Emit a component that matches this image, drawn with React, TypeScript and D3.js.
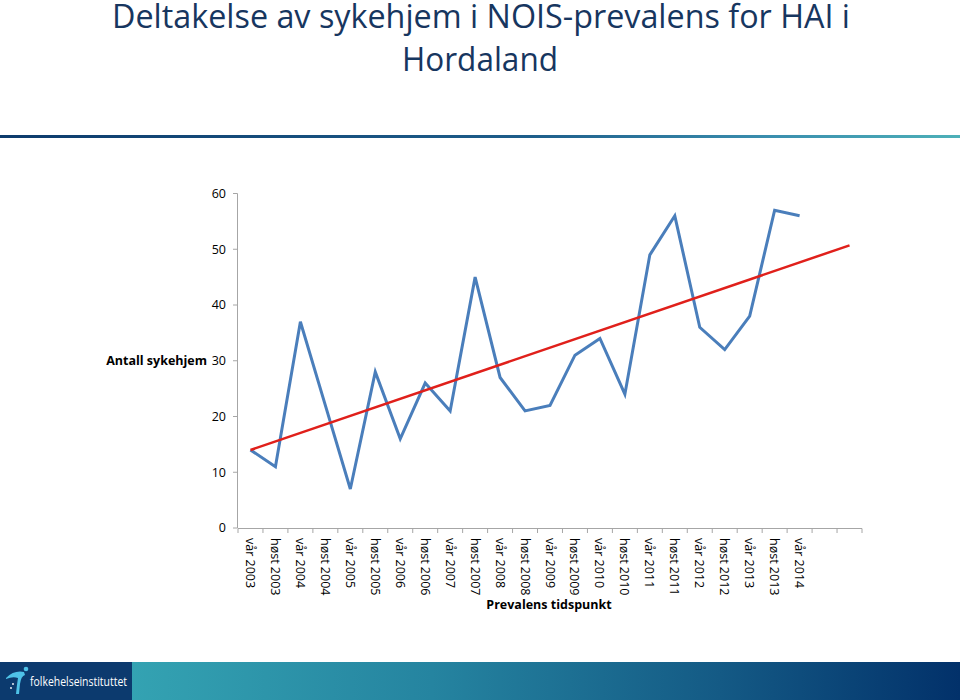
import React from "react";
import * as d3 from "d3";

const categories: string[] = [
  "vår 2003", "høst 2003", "vår 2004", "høst 2004", "vår 2005", "høst 2005",
  "vår 2006", "høst 2006", "vår 2007", "høst 2007", "vår 2008", "høst 2008",
  "vår 2009", "høst 2009", "vår 2010", "høst 2010", "vår 2011", "høst 2011",
  "vår 2012", "høst 2012", "vår 2013", "høst 2013", "vår 2014", "", "",
];
const antallSykehjem: number[] = [
  14, 11, 37, 22, 7, 28, 16, 26, 21, 45, 27, 21, 22, 31, 34, 24, 49, 56, 36, 32, 38, 57, 56,
];
// linear trendline end points (first and last category)
const trendValues: number[] = [14, 50.7];
const yTicks: number[] = [0, 10, 20, 30, 40, 50, 60];

const W = 960;
const H = 700;

export default function App() {
  const x = d3.scaleBand<number>().domain(d3.range(categories.length)).range([238, 862]).padding(0);
  const y = d3.scaleLinear().domain([0, 60]).range([528, 193.5]);
  const cx = (i: number) => (x(i) as number) + x.bandwidth() / 2;

  const line = d3
    .line<number>()
    .x((_, i) => cx(i))
    .y((d) => y(d));

  const trendPts: [number, number][] = [
    [cx(0), y(trendValues[0])],
    [cx(categories.length - 1), y(trendValues[1])],
  ];

  const boundaries = d3.range(categories.length + 1).map((i) => 238 + i * x.bandwidth());
  const font = "'Open Sans', sans-serif";

  return (
    <svg width={W} height={H} style={{ position: "absolute", left: 0, top: 0, background: "#fff" }}>
      <defs>
        <linearGradient id="titleLine" x1="0" x2="1" y1="0" y2="0">
          <stop offset="0" stopColor="#0D3B6C" />
          <stop offset="0.55" stopColor="#1D5D8A" />
          <stop offset="0.8" stopColor="#3A8EAE" />
          <stop offset="1" stopColor="#4DB0B8" />
        </linearGradient>
        <linearGradient id="footGrad" x1="0" x2="1" y1="0" y2="0">
          <stop offset="0" stopColor="#3AB0BA" />
          <stop offset="0.45" stopColor="#2584A0" />
          <stop offset="0.75" stopColor="#145A85" />
          <stop offset="1" stopColor="#02316A" />
        </linearGradient>
      </defs>

      {/* Title */}
      <text x={481} y={27.5} textAnchor="middle" fontFamily={font} fontSize={32} fill="#17365F"
        textLength={738} lengthAdjust="spacingAndGlyphs">
        Deltakelse av sykehjem i NOIS-prevalens for HAI i
      </text>
      <text x={480} y={70.5} textAnchor="middle" fontFamily={font} fontSize={32} fill="#17365F"
        textLength={156} lengthAdjust="spacingAndGlyphs">
        Hordaland
      </text>
      <rect x={0} y={135} width={W} height={3} fill="url(#titleLine)" />

      {/* Y axis */}
      <line x1={237.5} x2={237.5} y1={y(60)} y2={y(0)} stroke="#A6A6A6" strokeWidth={1} />
      {yTicks.map((t) => (
        <g key={t}>
          <line x1={233} x2={237.5} y1={y(t)} y2={y(t)} stroke="#A6A6A6" />
          <text x={226} y={y(t)} dy="0.35em" textAnchor="end" fontFamily={font} fontSize={12.5} fill="#000">
            {t}
          </text>
        </g>
      ))}
      <text x={207} y={y(30)} dy="0.35em" textAnchor="end" fontFamily={font} fontSize={12.5} fontWeight="bold" fill="#000">
        Antall sykehjem
      </text>

      {/* X axis */}
      <line x1={238} x2={862} y1={528.5} y2={528.5} stroke="#A6A6A6" />
      {boundaries.map((b, i) => (
        <line key={i} x1={b} x2={b} y1={528.5} y2={533} stroke="#A6A6A6" />
      ))}
      {categories.map((c, i) =>
        c ? (
          <text key={i} transform={`translate(${cx(i) - 4.5},538) rotate(90)`} fontFamily={font}
            fontSize={12.5} fill="#000" textAnchor="start">
            {c}
          </text>
        ) : null
      )}
      <text x={549} y={609} textAnchor="middle" fontFamily={font} fontSize={12.5} fontWeight="bold" fill="#000">
        Prevalens tidspunkt
      </text>

      {/* Data line */}
      <path d={line(antallSykehjem) || ""} fill="none" stroke="#4A7EBB" strokeWidth={3} strokeLinejoin="miter" />
      {/* Trend line */}
      <line x1={trendPts[0][0]} y1={trendPts[0][1]} x2={trendPts[1][0]} y2={trendPts[1][1]}
        stroke="#E0201B" strokeWidth={2.5} />

      {/* Footer */}
      <rect x={0} y={662} width={W} height={38} fill="url(#footGrad)" />
      <rect x={0} y={662} width={132} height={38} fill="#0C3A6E" />
      <path d="M6,678 Q14,670 24,672 L25,675 Q21,676 20,684 L19,694 L16,694 Q17,684 18,678 Q13,676 6,679 Z" fill="#4EC2E8" />
      <circle cx={26} cy={669} r={2.3} fill="#4EC2E8" />
      <circle cx={13} cy={684} r={0.9} fill="#ffffff" />
      <circle cx={11} cy={688} r={0.9} fill="#ffffff" />
      <text x={30} y={686} fontFamily={font} fontSize={12} fill="#ffffff" textLength={97} lengthAdjust="spacingAndGlyphs">
        folkehelseinstituttet
      </text>
    </svg>
  );
}
